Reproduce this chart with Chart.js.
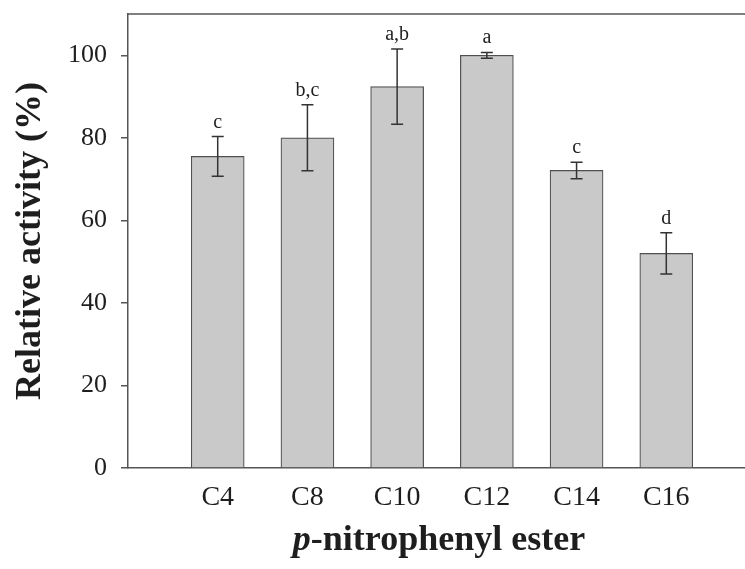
<!DOCTYPE html>
<html>
<head>
<meta charset="utf-8">
<script src="https://cdn.jsdelivr.net/npm/chart.js@4.4.1/dist/chart.umd.min.js"></script>
<style>
  html, body { margin: 0; padding: 0; background: #fff; overflow: hidden; }
  #wrap { width: 780px; height: 569px; }
</style>
</head>
<body>
<div id="wrap"><canvas id="chart" width="780" height="569"></canvas></div>
<script>
const categories = ['C4', 'C8', 'C10', 'C12', 'C14', 'C16']
const activity = [75.5, 80.0, 92.4, 100.0, 72.1, 52.0]
const stdDev = [4.8, 8.0, 9.1, 0.7, 2.0, 5.0]
const groupLetters = ['c', 'b,c', 'a,b', 'a', 'c', 'd']
const yTicks = [0, 20, 40, 60, 80, 100]

// an empty slot on each side keeps the bars one step in from the frame
const labels = ['', ...categories, '']
const barValues = [null, ...activity, null]

const serif = '"Liberation Serif", "Times New Roman", serif'
const lineColor = '#555'
const textColor = '#1e1e1e'

const errorBars = {
  id: 'errorBars',
  afterDatasetsDraw(chart) {
    const ctx = chart.ctx
    const y = chart.scales.y
    const bars = chart.getDatasetMeta(0).data
    ctx.save()
    ctx.strokeStyle = '#333'
    ctx.lineWidth = 1.5
    ctx.fillStyle = textColor
    ctx.font = '20px ' + serif
    ctx.textAlign = 'center'
    activity.forEach((v, i) => {
      const x = bars[i + 1].x
      const top = y.getPixelForValue(v + stdDev[i])
      const bottom = y.getPixelForValue(v - stdDev[i])
      ctx.beginPath()
      ctx.moveTo(x, top); ctx.lineTo(x, bottom)
      ctx.moveTo(x - 6, top); ctx.lineTo(x + 6, top)
      ctx.moveTo(x - 6, bottom); ctx.lineTo(x + 6, bottom)
      ctx.stroke()
      ctx.fillText(groupLetters[i], x, top - 9)
    })
    ctx.restore()
  },
  afterDraw(chart) {
    const { ctx, chartArea } = chart
    ctx.save()
    // top edge of the frame
    ctx.strokeStyle = lineColor
    ctx.lineWidth = 1.5
    ctx.beginPath()
    ctx.moveTo(chartArea.left, chartArea.top)
    ctx.lineTo(chartArea.right, chartArea.top)
    ctx.stroke()

    // x title: italic "p" followed by bold text
    const head = 'p'
    const tail = '-nitrophenyl ester'
    const italic = 'italic bold 36px ' + serif
    const bold = 'bold 36px ' + serif
    ctx.font = italic
    const w1 = ctx.measureText(head).width
    ctx.font = bold
    const w2 = ctx.measureText(tail).width
    const cx = 439
    const x0 = cx - (w1 + w2) / 2
    const baseY = 550
    ctx.fillStyle = textColor
    ctx.textAlign = 'left'
    ctx.textBaseline = 'alphabetic'
    ctx.font = italic
    ctx.fillText(head, x0, baseY)
    ctx.font = bold
    ctx.fillText(tail, x0 + w1, baseY)
    ctx.restore()
  }
}

new Chart(document.getElementById('chart'), {
  type: 'bar',
  data: {
    labels: labels,
    datasets: [{
      data: barValues,
      backgroundColor: '#c9c9c9',
      borderColor: '#505050',
      borderWidth: 1.2,
      barThickness: 53
    }]
  },
  options: {
    responsive: false,
    animation: false,
    devicePixelRatio: 1,
    layout: { padding: { top: 14, right: 24, left: 0, bottom: 0 } },
    plugins: {
      legend: { display: false },
      tooltip: { enabled: false }
    },
    scales: {
      x: {
        type: 'category',
        offset: false,
        afterFit: (s) => { s.height = 101 },
        grid: { display: false, drawTicks: false },
        border: { display: true, color: lineColor, width: 1.5 },
        ticks: {
          color: textColor,
          font: { family: serif, size: 28 },
          padding: 13,
          autoSkip: false,
          maxRotation: 0
        }
      },
      y: {
        min: 0,
        max: 110,
        afterFit: (s) => {
          s.width = 128
          s.paddingTop = 0
          s.paddingBottom = 0
        },
        afterBuildTicks: (s) => { s.ticks = yTicks.map(v => ({ value: v })) },
        grid: { drawOnChartArea: false, drawTicks: true, tickLength: 7, color: lineColor, lineWidth: 1.5 },
        border: { display: true, color: lineColor, width: 1.5 },
        ticks: {
          color: textColor,
          font: { family: serif, size: 26 },
          padding: 14
        },
        title: {
          display: true,
          text: 'Relative activity (%)',
          color: textColor,
          font: { family: serif, size: 36, weight: 'bold' },
          padding: { top: 9, bottom: 0 }
        }
      }
    }
  },
  plugins: [errorBars]
})
</script>
</body>
</html>
